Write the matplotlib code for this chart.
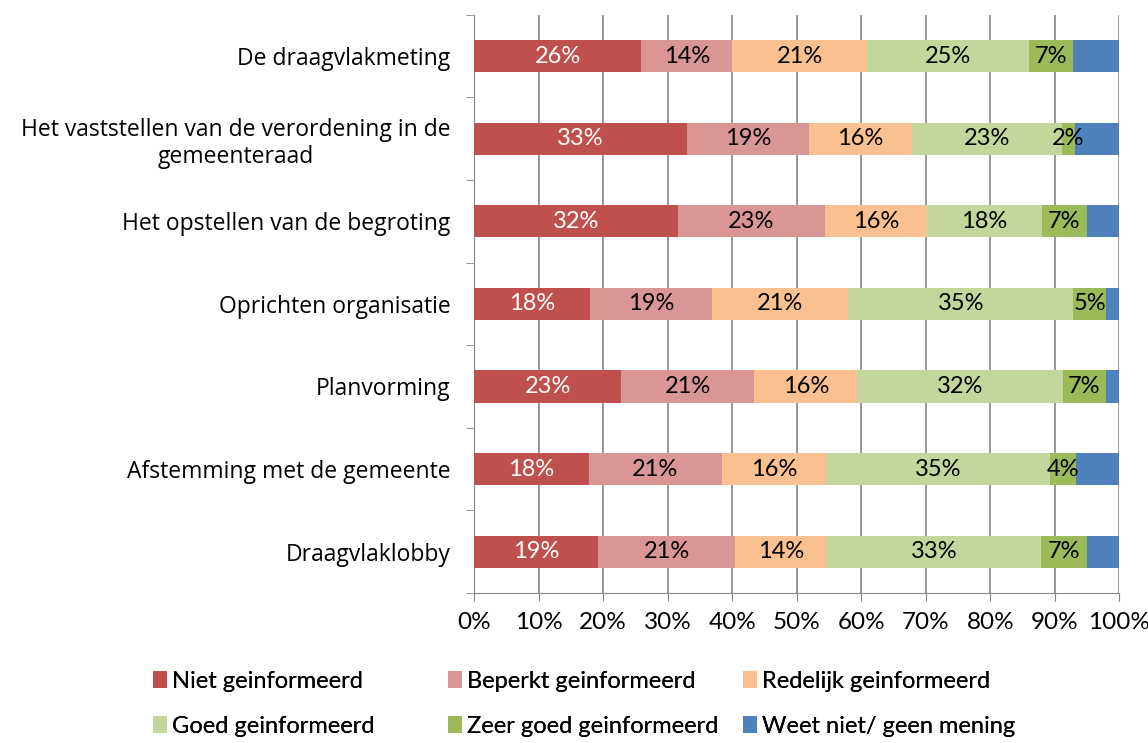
import matplotlib
matplotlib.use("Agg")
import matplotlib.pyplot as plt
import numpy as np

categories = ["De draagvlakmeting",
              "Het vaststellen van de verordening in de\ngemeenteraad",
              "Het opstellen van de begroting",
              "Oprichten organisatie",
              "Planvorming",
              "Afstemming met de gemeente",
              "Draagvlaklobby"]

series_names = ["Niet geinformeerd", "Beperkt geinformeerd", "Redelijk geinformeerd",
                "Goed geinformeerd", "Zeer goed geinformeerd", "Weet niet/ geen mening"]

niet = [25.9, 33.0, 31.6, 18.0, 22.8, 17.8, 19.2]
beperkt = [14.1, 18.9, 22.8, 18.9, 20.6, 20.6, 21.3]
redelijk = [20.9, 16.0, 15.8, 21.1, 16.0, 16.2, 14.1]
goed = [25.1, 23.2, 17.8, 34.9, 31.8, 34.6, 33.3]
zeer_goed = [6.8, 2.0, 7.0, 5.1, 6.8, 4.1, 7.1]
weet_niet = [7.2, 6.9, 5.0, 2.0, 2.0, 6.7, 5.0]

colors = ["#C0504D", "#D99694", "#FAC090", "#C3D69B", "#9BBB59", "#4F81BD"]
label_colors = ["white", "black", "black", "black", "black", None]

narrow = ["Lato", "DejaVu Sans"]

fig = plt.figure(figsize=(11.48, 7.43), dpi=100)
ax = fig.add_axes([0.413, 0.202, 0.562, 0.778])

data = [niet, beperkt, redelijk, goed, zeer_goed, weet_niet]
y = np.arange(len(categories))
left = np.zeros(len(categories))
for vals, name, col, lc in zip(data, series_names, colors, label_colors):
    vals = np.array(vals)
    ax.barh(y, vals, left=left, height=0.39, color=col, label=name, zorder=3)
    if lc is not None:
        for yi, (l, v) in enumerate(zip(left, vals)):
            ax.text(l + v / 2, yi, "%d%%" % round(v), ha="center", va="center",
                    color=lc, fontsize=17, family=narrow, zorder=4)
    left += vals

ax.set_xlim(0, 100)
ax.set_ylim(len(categories) - 0.5, -0.5)
ax.set_xticks(np.arange(0, 101, 10))
ax.set_xticklabels(["%d%%" % v for v in range(0, 101, 10)], family=narrow, fontsize=17.5)
ax.set_yticks(y)
ax.set_yticklabels(categories, fontsize=16.5, family="Open Sans", multialignment="center")
ax.set_yticks(np.arange(-0.5, len(categories), 1), minor=True)
ax.tick_params(axis="y", which="major", length=0, pad=17)
ax.tick_params(axis="y", which="minor", length=6, color="#868686", direction="out")
ax.tick_params(axis="x", length=6, color="#868686", direction="out", pad=8)
ax.grid(axis="x", color="#868686", linewidth=1.2, zorder=0)
for s in ["top", "right"]:
    ax.spines[s].set_visible(False)
ax.spines["left"].set_color("#868686")
ax.spines["bottom"].set_color("#868686")

# one legend per column so the columns sit at fixed positions
handles, labels = ax.get_legend_handles_labels()
col_x = [0.133, 0.390, 0.647]
for c in range(3):
    idx = [c, c + 3]
    leg = fig.legend([handles[i] for i in idx], [labels[i] for i in idx],
                     loc="upper left", bbox_to_anchor=(col_x[c], 0.097),
                     frameon=False, prop={"family": narrow, "size": 17},
                     handlelength=0.6, handleheight=0.7, handletextpad=0.2,
                     labelspacing=1.0, borderpad=0, borderaxespad=0)
    fig.add_artist(leg)

fig.savefig("out.png", dpi=100)
